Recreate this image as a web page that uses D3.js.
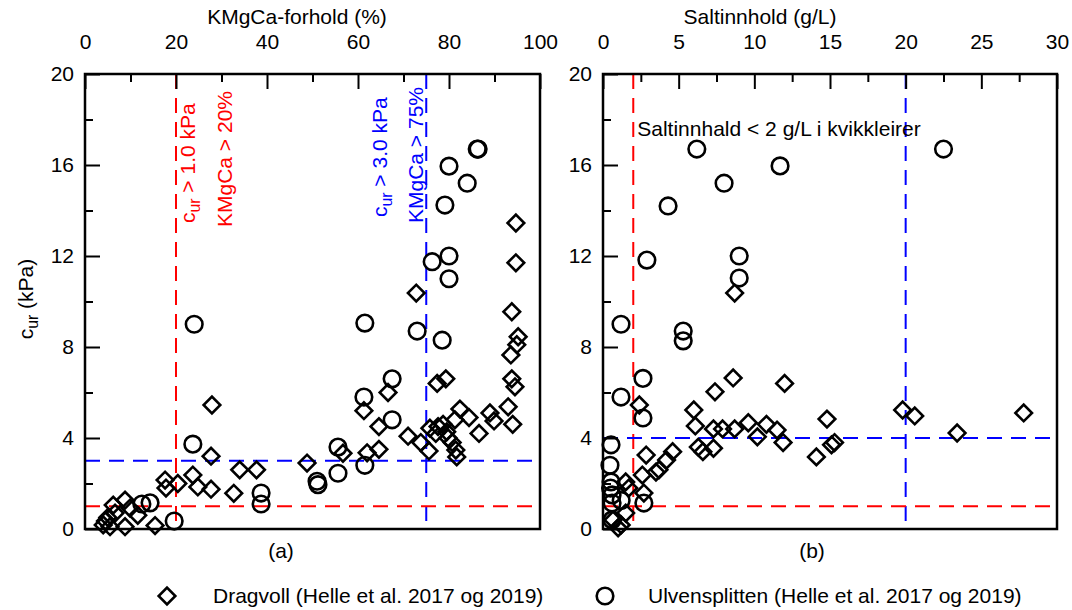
<!DOCTYPE html>
<html><head><meta charset="utf-8">
<script src="https://cdn.jsdelivr.net/npm/d3@7"></script>
<style>body{margin:0;background:#fff} text{font-family:Arial,"Liberation Sans",sans-serif;fill:#000}</style>
</head><body><svg id="c" width="1072" height="610"></svg>
<script>
// ---------- DATA ----------
// Panel (a): KMgCa-forhold (%) vs c_ur (kPa)
const kmgcaDragvoll = [
 [4.0,0.18],[4.5,0.35],[5.5,0.1],[5.0,0.5],[6.2,1.05],[6.6,0.7],[8.8,1.27],[8.8,0.1],[9.9,0.92],[11.6,0.6],
 [15.4,0.15],[17.6,2.15],[17.8,1.8],[20.4,2.0],[23.7,2.37],[24.8,1.85],[27.7,1.75],[27.7,3.2],[27.9,5.45],
 [32.7,1.57],[34,2.6],[37.7,2.6],[48.8,2.9],[56.7,3.33],[61.3,5.2],[62,3.35],[64.6,4.5],[64.6,3.5],[66.6,6.0],
 [71,4.08],[72.8,10.37],[73.8,3.8],[75.6,3.43],[75.8,4.43],[77.1,4.2],[77.4,6.4],[77.6,4.5],[78.7,4.6],
 [79.3,6.6],[79.5,4.27],[79.8,4.0],[80.7,3.8],[81.3,4.8],[81.5,3.47],[81.7,3.17],[82.4,5.27],[84.4,4.9],
 [86.6,4.2],[89,5.1],[89.9,4.75],[93,5.37],[93.6,7.65],[93.8,9.55],[93.8,6.6],[94,4.6],[94.5,6.25],
 [94.9,8.1],[95.2,8.45],[94.7,13.45],[94.7,11.7]
];
const kmgcaUlven = [
 [12.5,1.1],[14.3,1.15],[19.6,0.35],[23.7,3.73],[24,9.0],[38.7,1.58],[38.7,1.1],[51,2.1],[51.2,1.95],
 [55.6,3.6],[55.6,2.45],[61.5,9.05],[61.3,5.8],[61.5,2.8],[67.5,6.6],[67.5,4.8],[73,8.7],[76.3,11.75],
 [78.5,8.3],[79.1,14.24],[80,12.0],[80,11.0],[80,15.95],[84,15.2],[86.2,16.7],[86.4,16.7]
];
// Panel (b): Saltinnhold (g/L) vs c_ur (kPa)
const saltDragvoll = [
 [0.66,0.4],[1.0,0.05],[1.2,0.18],[1.5,0.7],[1.5,2.07],[1.7,1.8],[2.4,5.45],[2.6,2.37],[2.7,1.58],
 [2.85,3.25],[3.5,2.5],[3.7,2.6],[4.2,3.03],[4.6,3.4],[6.0,5.23],[6.1,4.53],[6.3,3.6],[6.6,3.4],[7.3,3.55],
 [7.3,4.4],[7.4,6.03],[7.9,4.4],[8.6,6.64],[8.7,4.4],[8.7,10.37],[9.6,4.67],[10.2,4.05],[10.8,4.6],
 [11.5,4.35],[11.9,3.8],[12.0,6.4],[14.1,3.17],[14.8,4.83],[15.1,3.7],[15.3,3.8],[19.8,5.23],[20.6,4.97],
 [23.4,4.22],[27.8,5.1]
];
const saltUlven = [
 [0.53,3.7],[0.46,2.8],[0.53,2.07],[0.5,1.8],[0.6,1.5],[0.6,1.14],[0.6,0.4],[1.2,1.25],[1.19,5.8],[1.19,9.0],
 [2.64,6.62],[2.64,4.88],[2.7,1.14],[2.9,11.82],[4.3,14.2],[5.3,8.7],[5.3,8.27],[6.2,16.7],[8.0,15.2],
 [9.0,12.0],[9.0,11.03],[11.7,15.96],[22.5,16.7]
];
// ticks
const yMajor = [0,4,8,12,16,20];
const yMinor = [2,6,10,14,18];
const xaMajor = [0,20,40,60,80,100];
const xaMinor = [10,30,50,70,90];
const xbMajor = [0,5,10,15,20,25,30];
const xbMinor = [2.5,7.5,12.5,17.5,22.5,27.5];
// threshold lines
const aVertical = [20,75];   // red, blue
const aHorizontal = [1,3];   // red, blue
const bVertical = [2,20];
const bHorizontal = [1,4];
const lineColors = ["#ff0000","#0000ff"];

// ---------- DRAW ----------
const svg = d3.select("#c");
const FS = 21;
const y = d3.scaleLinear().domain([0,20]).range([529,74]);
const xa = d3.scaleLinear().domain([0,100]).range([85,540]);
const xb = d3.scaleLinear().domain([0,30]).range([603,1057]);

function panel(x, major, minor, title, titleX, vLines, hLines, dDrag, dUlv){
  const g = svg.append("g");
  const [x0,x1] = x.range();
  vLines.forEach((v,i)=>g.append("line").attr("x1",x(v)).attr("x2",x(v)).attr("y1",y(20)).attr("y2",y(0))
     .attr("stroke",lineColors[i]).attr("stroke-width",2).attr("stroke-dasharray","15,9"));
  hLines.forEach((v,i)=>g.append("line").attr("x1",x0).attr("x2",x1).attr("y1",y(v)).attr("y2",y(v))
     .attr("stroke",lineColors[i]).attr("stroke-width",2).attr("stroke-dasharray","15,9"));
  const top = g.append("g").attr("transform",`translate(0,${y(20)})`);
  top.append("g").call(d3.axisTop(x).tickValues(minor).tickSize(-8).tickFormat(""));
  top.append("g").call(d3.axisTop(x).tickValues(major).tickSize(-15).tickPadding(25).tickFormat(d3.format("d")));
  const left = g.append("g").attr("transform",`translate(${x0},0)`);
  left.append("g").call(d3.axisLeft(y).tickValues(yMinor).tickSize(-8).tickFormat(""));
  left.append("g").call(d3.axisLeft(y).tickValues(yMajor).tickSize(-15).tickPadding(11).tickFormat(d3.format("d")));
  g.selectAll(".domain").remove();
  g.selectAll(".tick line").attr("stroke","#000").attr("stroke-width",2);
  g.selectAll(".tick text").attr("font-size",FS).attr("font-family","Arial, Liberation Sans, sans-serif").attr("fill","#000");
  g.append("rect").attr("x",x0).attr("y",y(20)).attr("width",x1-x0).attr("height",y(0)-y(20))
    .attr("fill","none").attr("stroke","#000").attr("stroke-width",2.5);
  g.append("text").attr("x",titleX).attr("y",24).attr("text-anchor","middle").attr("font-size",FS).text(title);
  const diamond = d3.symbol(d3.symbolSquare, 138);
  g.selectAll("path.dg").data(dDrag).join("path").attr("class","dg").attr("d",diamond)
    .attr("transform",d=>`translate(${x(d[0])},${y(d[1])}) rotate(45)`)
    .attr("fill","none").attr("stroke","#000").attr("stroke-width",2.6);
  g.selectAll("circle.ul").data(dUlv).join("circle").attr("class","ul")
    .attr("cx",d=>x(d[0])).attr("cy",d=>y(d[1])).attr("r",8.3)
    .attr("fill","none").attr("stroke","#000").attr("stroke-width",2.6);
  return g;
}

panel(xa, xaMajor, xaMinor, "KMgCa-forhold (%)", 297, aVertical, aHorizontal, kmgcaDragvoll, kmgcaUlven);
panel(xb, xbMajor, xbMinor, "Saltinnhold (g/L)", 760, bVertical, bHorizontal, saltDragvoll, saltUlven);

function rotLabel(x0, y0, color, parts){
  const t = svg.append("text").attr("transform",`translate(${x0},${y0}) rotate(-90)`)
    .attr("font-size",FS).attr("fill",color).style("fill",color);
  parts.forEach(p=>{
    const s = t.append("tspan").text(p.t);
    if(p.sub) s.attr("font-size",FS*0.75).attr("dy",5);
    if(p.back) s.attr("dy",-5);
  });
}
rotLabel(xa(20)+19, 223, "#ff0000", [{t:"c"},{t:"ur",sub:true},{t:" > 1.0 kPa",back:true}]);
rotLabel(xa(20)+56, 227, "#ff0000", [{t:"KMgCa > 20%"}]);
rotLabel(xa(75)-39, 217, "#0000ff", [{t:"c"},{t:"ur",sub:true},{t:" > 3.0 kPa",back:true}]);
rotLabel(xa(75)-3, 223, "#0000ff", [{t:"KMgCa > 75%"}]);

const yt = svg.append("text").attr("transform","translate(33,299) rotate(-90)").attr("text-anchor","middle").attr("font-size",FS);
yt.append("tspan").text("c");
yt.append("tspan").text("ur").attr("font-size",FS*0.75).attr("dy",5);
yt.append("tspan").text(" (kPa)").attr("dy",-5);

svg.append("text").attr("x",xb(2)+4).attr("y",136).attr("font-size",FS).text("Saltinnhald < 2 g/L i kvikkleirer");

svg.append("text").attr("x",281).attr("y",558).attr("text-anchor","middle").attr("font-size",FS).text("(a)");
svg.append("text").attr("x",812).attr("y",558).attr("text-anchor","middle").attr("font-size",FS).text("(b)");

const lg = svg.append("g");
lg.append("path").attr("d",d3.symbol(d3.symbolSquare,138)).attr("transform","translate(167,596) rotate(45)")
  .attr("fill","none").attr("stroke","#000").attr("stroke-width",2.6);
lg.append("text").attr("x",213).attr("y",603).attr("font-size",FS).text("Dragvoll (Helle et al. 2017 og 2019)");
lg.append("circle").attr("cx",605).attr("cy",596).attr("r",8.3).attr("fill","none").attr("stroke","#000").attr("stroke-width",2.6);
lg.append("text").attr("x",648).attr("y",603).attr("font-size",FS).text("Ulvensplitten (Helle et al. 2017 og 2019)");
</script></body></html>
